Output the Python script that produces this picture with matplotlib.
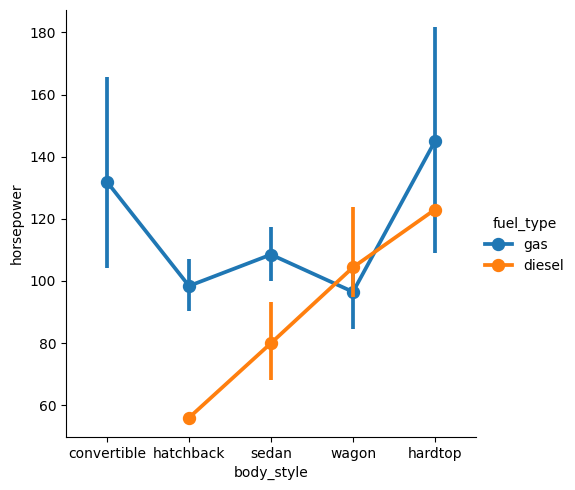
import numpy as np
import matplotlib
matplotlib.use('Agg')
import matplotlib.pyplot as plt

# data
body_style = ['convertible', 'hatchback', 'sedan', 'wagon', 'hardtop']
gas_mean = [131.9, 98.4, 108.5, 96.5, 145.0]
gas_low = [104.2, 90.3, 100.0, 84.4, 108.9]
gas_high = [165.8, 107.1, 117.4, 104.0, 181.6]
diesel_mean = [np.nan, 56.0, 80.0, 104.4, 123.0]
diesel_low = [np.nan, np.nan, 68.0, 94.9, np.nan]
diesel_high = [np.nan, np.nan, 93.2, 123.9, np.nan]

fig = plt.figure(figsize=(5.75, 4.9), dpi=100)
ax = fig.add_axes([66 / 575, 53 / 490, 410 / 575, 427 / 490])

x = np.arange(len(body_style))
lw = 2.7
series = [
    ('gas', gas_mean, gas_low, gas_high, '#1f77b4'),
    ('diesel', diesel_mean, diesel_low, diesel_high, '#ff7f0e'),
]
for name, m, lo, hi, c in series:
    ax.plot(x, m, color=c, lw=lw, marker='o', ms=8.6, label=name)
    for xi, a, b in zip(x, lo, hi):
        if not np.isnan(a):
            ax.plot([xi, xi], [a, b], color=c, lw=lw, solid_capstyle='butt')

ax.set_xticks(x)
ax.set_xticklabels(body_style)
ax.set_xlim(-0.5, 4.5)
ax.set_ylim(49.8, 187.2)
ax.set_xlabel('body_style')
ax.set_ylabel('horsepower')
ax.spines['top'].set_visible(False)
ax.spines['right'].set_visible(False)

handles, labels = ax.get_legend_handles_labels()
fig.legend(handles, labels, title='fuel_type', frameon=False,
           loc='center left', bbox_to_anchor=(472 / 575, 1 - 245 / 490))

fig.savefig('out.png', dpi=100)
